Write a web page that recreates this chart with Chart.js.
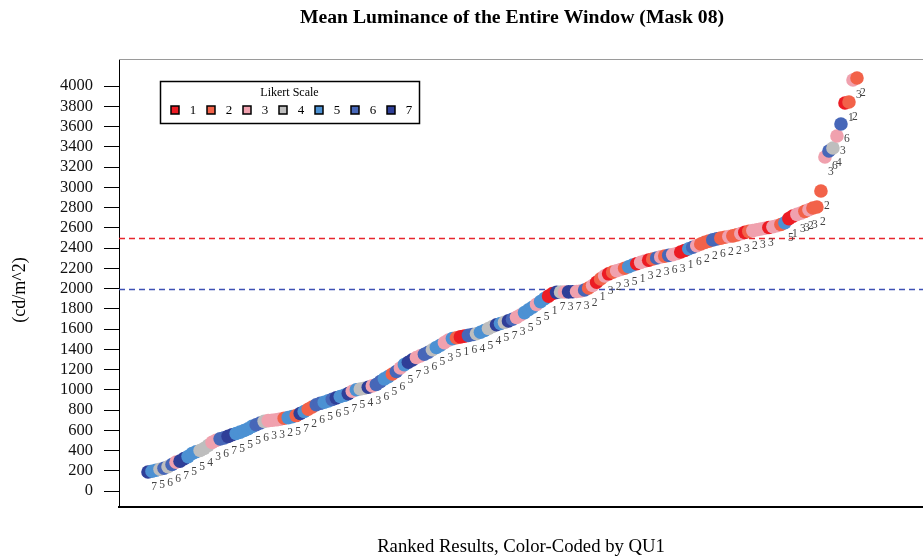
<!DOCTYPE html>
<html><head><meta charset="utf-8">
<script src="https://cdn.jsdelivr.net/npm/chart.js@4.4.1/dist/chart.umd.min.js"></script>
<style>html,body{margin:0;padding:0;background:#fff}canvas{display:block}</style>
</head><body>
<canvas id="c" width="923" height="560"></canvas>
<script>
// ranked mean luminance values (cd/m^2), rank 1..178
const values = [
 188,195,205,215,225,240,262,285,295,320,
 340,370,388,400,420,450,480,500,515,525,
 540,555,568,582,598,615,638,655,672,688,
 695,699,703,710,718,725,735,745,765,785,
 808,830,852,866,876,890,905,920,933,945,
 962,985,1000,1008,1015,1025,1038,1052,1080,1108,
 1130,1155,1180,1215,1248,1272,1295,1318,1335,1350,
 1370,1395,1418,1440,1465,1490,1505,1513,1522,1530,
 1537,1545,1553,1568,1585,1605,1625,1642,1655,1666,
 1680,1697,1715,1738,1762,1790,1815,1843,1870,1900,
 1925,1950,1962,1965,1966,1967,1968,1970,1975,1985,
 2005,2030,2062,2095,2125,2145,2162,2176,2188,2200,
 2215,2232,2245,2258,2270,2280,2292,2302,2312,2320,
 2327,2335,2345,2360,2376,2392,2408,2423,2440,2456,
 2468,2480,2490,2498,2506,2513,2520,2530,2542,2554,
 2564,2572,2580,2588,2595,2602,2610,2620,2632,2650,
 2690,2715,2732,2745,2762,2778,2795,2805,2963,3299,
 3358,3388,3506,3625,3832,3842,4059,4079
];
// QU1 Likert answer of each ranked result
const likert = [
 7,5,5,4,6,4,6,3,7,7,
 5,5,5,4,4,4,3,3,6,6,
 7,7,5,5,5,5,5,6,6,4,
 3,3,3,3,2,5,5,2,7,5,
 2,2,6,6,5,5,6,7,5,5,
 7,3,5,4,4,7,3,6,6,5,
 5,2,6,3,5,7,7,3,3,6,
 6,4,5,5,3,3,5,2,1,1,
 6,6,4,5,5,4,4,7,5,4,
 7,6,3,3,5,5,5,3,5,5,
 1,1,7,4,3,7,7,3,3,6,
 2,3,1,2,3,1,2,3,3,2,
 5,5,1,3,3,1,2,6,3,2,
 6,3,3,1,1,5,6,3,2,2,
 2,6,6,2,2,3,2,2,3,1,
 2,3,3,3,3,1,3,3,2,5,
 1,1,3,3,2,3,2,2,2,3,
 6,4,3,6,1,2,3,2
];
// indices (0-based ranks) that carry a text label
const labelled = [
 0,2,4,6,8,10,12,14,16,18,20,22,24,26,28,30,32,34,36,38,
 40,42,44,46,48,50,52,54,56,58,60,62,64,66,68,70,72,74,76,78,
 80,82,84,86,88,90,92,94,96,98,100,102,104,106,108,110,112,114,116,118,
 120,122,124,126,128,130,132,134,136,138,140,142,144,146,148,150,152,154,
 159,160,162,163,164,165,167,168,169,170,171,172,173,174,175,176,177
];
const likertLevels = ['1','2','3','4','5','6','7'];
const likertColors = ['#EC1C24','#F26249','#F0A1AE','#BEBEBE','#4C91D3','#4767B8','#2F3F98'];
const yTickValues = [0,200,400,600,800,1000,1200,1400,1600,1800,2000,2200,2400,2600,2800,3000,3200,3400,3600,3800,4000];
const refLines = [2500, 2000];
const refColors = ['#E8262D','#3F51B5'];
const titleText = 'Mean Luminance of the Entire Window (Mask 08)';
const xTitle = 'Ranked Results, Color-Coded by QU1';
const yTitle = '(cd/m^2)';
const legendTitle = 'Likert Scale';
const SERIF = "'Liberation Serif','Times New Roman',serif";

const deco = {
  id: 'deco',
  beforeDatasetsDraw(chart) {
    const {ctx, chartArea: a, scales: {y}} = chart;
    ctx.save();
    ctx.lineWidth = 1.6;
    ctx.setLineDash([6, 4]);
    refLines.forEach((v, k) => {
      const py = Math.round(y.getPixelForValue(v)) + 0.5;
      ctx.strokeStyle = refColors[k];
      ctx.beginPath(); ctx.moveTo(a.left, py); ctx.lineTo(a.right, py); ctx.stroke();
    });
    ctx.restore();
  },
  afterDatasetsDraw(chart) {
    const {ctx} = chart;
    const meta = chart.getDatasetMeta(0);
    ctx.save();
    ctx.font = '11.5px ' + SERIF;
    ctx.fillStyle = '#444';
    ctx.textAlign = 'center';
    ctx.textBaseline = 'middle';
    labelled.forEach(i => {
      const el = meta.data[i];
      ctx.fillText(String(likert[i]), el.x + 6, el.y + 15);
    });
    ctx.restore();
  },
  afterDraw(chart) {
    const {ctx, chartArea: a} = chart;
    ctx.save();
    // top frame line
    ctx.strokeStyle = '#9a9a9a'; ctx.lineWidth = 1;
    ctx.beginPath(); ctx.moveTo(a.left, a.top + 0.5); ctx.lineTo(chart.width, a.top + 0.5); ctx.stroke();
    // main title
    ctx.fillStyle = '#000';
    ctx.font = 'bold 19.7px ' + SERIF;
    ctx.textAlign = 'center'; ctx.textBaseline = 'middle';
    ctx.fillText(titleText, 512, 18);
    // y title
    ctx.save();
    ctx.translate(20, 290); ctx.rotate(-Math.PI / 2);
    ctx.font = '18px ' + SERIF;
    ctx.fillText(yTitle, 0, 0);
    ctx.restore();
    // legend
    const lx = 160, ly = 81, lw = 259, lh = 42;
    ctx.fillStyle = '#fff'; ctx.fillRect(lx, ly, lw, lh);
    ctx.strokeStyle = '#000'; ctx.lineWidth = 1.5;
    ctx.strokeRect(lx + 0.5, ly + 0.5, lw, lh);
    ctx.fillStyle = '#000';
    ctx.font = '12px ' + SERIF;
    ctx.fillText(legendTitle, lx + lw / 2, ly + 12);
    likertLevels.forEach((lab, k) => {
      const cx = 175 + 36 * k, cy = 110;
      ctx.fillStyle = likertColors[k];
      ctx.fillRect(cx - 4, cy - 4, 8, 8);
      ctx.lineWidth = 1.5; ctx.strokeStyle = '#000';
      ctx.strokeRect(cx - 4, cy - 4, 8, 8);
      ctx.fillStyle = '#000';
      ctx.font = '13px ' + SERIF;
      ctx.fillText(lab, cx + 18, cy + 1);
    });
    ctx.restore();
  }
};

new Chart(document.getElementById('c'), {
  type: 'scatter',
  data: {
    datasets: [{
      data: values.map((v, i) => ({x: i + 1, y: v})),
      backgroundColor: likert.map(c => likertColors[c - 1]),
      pointRadius: 6.8,
      pointHoverRadius: 6.8,
      borderWidth: 0,
      clip: false
    }]
  },
  options: {
    responsive: false,
    animation: false,
    devicePixelRatio: 1,
    layout: {autoPadding: false, padding: {top: 59, left: 0, right: 0, bottom: 0}},
    plugins: {legend: {display: false}, tooltip: {enabled: false}, title: {display: false}},
    scales: {
      x: {
        type: 'linear', min: -6.24, max: 194.48,
        grid: {display: false},
        ticks: {display: false},
        border: {display: true, color: '#000', width: 2},
        title: {display: true, text: xTitle, color: '#000', font: {family: SERIF, size: 18.7}, padding: {top: 0, bottom: 2}},
        afterFit(axis) { axis.height = 53; }
      },
      y: {
        min: -158, max: 4266.7,
        afterBuildTicks(axis) { axis.ticks = yTickValues.map(v => ({value: v})); },
        grid: {display: true, drawOnChartArea: false, drawTicks: true, tickLength: 15, color: '#000', lineWidth: 1},
        border: {display: true, color: '#000', width: 1},
        ticks: {color: '#111', padding: 11, font: {family: SERIF, size: 16.5}, autoSkip: false, callback: v => String(v)},
        afterFit(axis) { axis.width = 119; }
      }
    }
  },
  plugins: [deco]
});
</script>
</body></html>
